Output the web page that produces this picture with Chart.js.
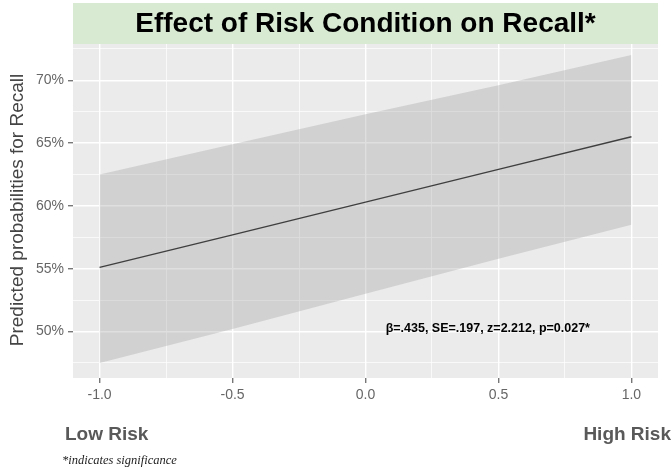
<!DOCTYPE html>
<html>
<head>
<meta charset="utf-8">
<script src="https://cdn.jsdelivr.net/npm/chart.js@4"></script>
<style>
  html, body { margin: 0; padding: 0; background: #fff; }
  #wrap { width: 672px; height: 472px; }
</style>
</head>
<body>
<div id="wrap"><canvas id="recall-chart" width="672" height="472"></canvas></div>
<script>
// values
var riskLevels = [-1, -0.5, 0, 0.5, 1];
var predicted = [55.1, 57.7, 60.3, 62.9, 65.5];
var lowerBound = [47.5, 50.2, 53.0, 55.8, 58.5];
var upperBound = [62.5, 64.9, 67.3, 69.6, 72.0];
var xTicks = [-1, -0.75, -0.5, -0.25, 0, 0.25, 0.5, 0.75, 1];
var yTicks = [47.5, 50, 52.5, 55, 57.5, 60, 62.5, 65, 67.5, 70, 72.5];

function toPoints(vals) {
  return riskLevels.map(function (x, i) { return { x: x, y: vals[i] }; });
}
function isMajor(v, step) {
  return Math.abs(v / step - Math.round(v / step)) < 1e-6;
}

var panelPlugin = {
  id: 'panel',
  beforeDraw: function (chart) {
    var ctx = chart.ctx, a = chart.chartArea;
    ctx.save();
    ctx.fillStyle = '#ebebeb';
    ctx.fillRect(a.left, a.top, a.right - a.left, a.bottom - a.top);
    ctx.restore();
  },
  afterDraw: function (chart) {
    var ctx = chart.ctx, a = chart.chartArea;
    var xs = chart.scales.x, ys = chart.scales.y;
    ctx.save();
    // title box
    ctx.fillStyle = '#d9ead3';
    ctx.fillRect(a.left, 3, a.right - a.left, 41);
    ctx.fillStyle = '#000';
    ctx.font = 'bold 28px "Liberation Sans", Arial, sans-serif';
    ctx.textAlign = 'center';
    ctx.textBaseline = 'middle';
    ctx.fillText('Effect of Risk Condition on Recall*', (a.left + a.right) / 2, 24);

    // stats annotation
    ctx.font = 'bold 12.5px "Liberation Sans", Arial, sans-serif';
    ctx.fillText('\u03b2=.435, SE=.197, z=2.212, p=0.027*', xs.getPixelForValue(0.46), ys.getPixelForValue(50.2));

    // y axis title
    ctx.save();
    ctx.translate(18, 210);
    ctx.rotate(-Math.PI / 2);
    ctx.fillStyle = '#444';
    ctx.font = '19px "Liberation Sans", Arial, sans-serif';
    ctx.fillText('Predicted probabilities for Recall', 0, 0);
    ctx.restore();

    // risk labels
    ctx.fillStyle = '#595959';
    ctx.font = 'bold 19px "Liberation Sans", Arial, sans-serif';
    ctx.textBaseline = 'alphabetic';
    ctx.textAlign = 'left';
    ctx.fillText('Low Risk', 65, 440);
    ctx.textAlign = 'right';
    ctx.fillText('High Risk', 671, 440);

    ctx.fillStyle = '#222';
    ctx.font = 'italic 12.5px "Liberation Serif", "Times New Roman", serif';
    ctx.textAlign = 'left';
    ctx.fillText('*indicates significance', 62, 464);
    ctx.restore();
  }
};

var gridStyle = function (step) {
  return {
    color: '#ffffff',
    lineWidth: function (c) { return c.tick && isMajor(c.tick.value, step) ? 1.4 : 0.7; },
    tickColor: function (c) { return c.tick && isMajor(c.tick.value, step) ? '#777' : 'rgba(0,0,0,0)'; },
    tickLength: 5,
    drawTicks: true
  };
};

new Chart(document.getElementById('recall-chart'), {
  type: 'line',
  data: {
    datasets: [
      {
        data: toPoints(lowerBound),
        borderWidth: 0,
        pointRadius: 0,
        fill: false
      },
      {
        data: toPoints(upperBound),
        borderWidth: 0,
        pointRadius: 0,
        backgroundColor: 'rgba(150,150,150,0.3)',
        fill: '-1'
      },
      {
        data: toPoints(predicted),
        borderColor: '#1a1a1a',
        borderWidth: 1.3,
        pointRadius: 0,
        fill: false
      }
    ]
  },
  options: {
    responsive: false,
    animation: false,
    layout: { padding: { left: 0, right: 14, top: 40, bottom: 64 } },
    plugins: { legend: { display: false }, tooltip: { enabled: false } },
    scales: {
      x: {
        type: 'linear',
        min: -1.1,
        max: 1.1,
        border: { display: false },
        grid: gridStyle(0.5),
        afterBuildTicks: function (s) { s.ticks = xTicks.map(function (v) { return { value: v }; }); },
        afterFit: function (s) { s.height = 30; },
        ticks: {
          autoSkip: false,
          maxRotation: 0,
          padding: 4,
          color: '#666',
          font: { size: 14, family: '"Liberation Sans", Arial, sans-serif' },
          callback: function (v) { return isMajor(v, 0.5) ? v.toFixed(1) : ''; }
        }
      },
      y: {
        type: 'linear',
        min: 46.3,
        max: 73.2,
        border: { display: false },
        grid: gridStyle(5),
        afterBuildTicks: function (s) { s.ticks = yTicks.map(function (v) { return { value: v }; }); },
        afterFit: function (s) { s.width = 73; },
        ticks: {
          autoSkip: false,
          padding: 4,
          color: '#666',
          font: { size: 14, family: '"Liberation Sans", Arial, sans-serif' },
          callback: function (v) { return isMajor(v, 5) ? v + '%' : ''; }
        }
      }
    }
  },
  plugins: [panelPlugin]
});
</script>
</body>
</html>
